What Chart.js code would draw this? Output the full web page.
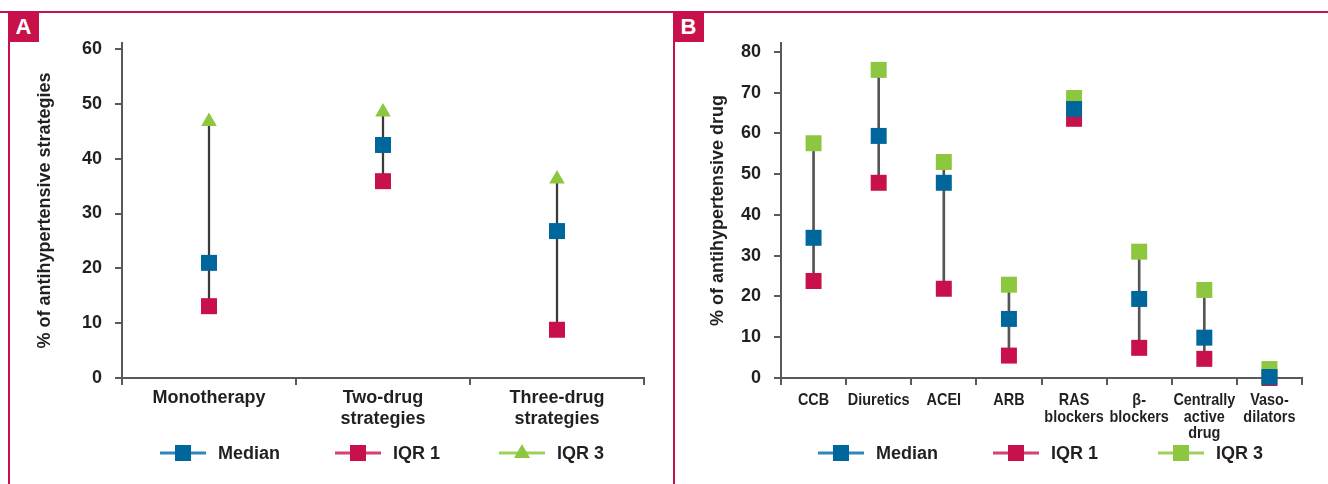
<!DOCTYPE html>
<html lang="en">
<head>
<meta charset="UTF-8">
<title>Antihypertensive strategies and drugs</title>
<script src="https://cdn.jsdelivr.net/npm/chart.js"></script>
<style>
    body, html {
        margin: 0;
        padding: 0;
        width: 1328px;
        height: 484px;
        overflow: hidden;
        background: #fff;
        font-family: "Liberation Sans", Arial, sans-serif;
    }
    .topline { position: absolute; left: 0; top: 11px; width: 1328px; height: 2px; background: #c8114a; }
    .side { position: absolute; top: 11px; width: 2px; height: 473px; background: #c8114a; }
    .badge {
        position: absolute; top: 12px; width: 31px; height: 30px;
        background: #c8114a; color: #fff; font-weight: bold; font-size: 22px;
        line-height: 30px; text-align: center;
    }
    .wrap { position: absolute; top: 0; height: 484px; }
</style>
</head>
<body>
<div class="topline"></div>
<div class="side" style="left:8px"></div>
<div class="side" style="left:673px"></div>
<div class="badge" style="left:8px">A</div>
<div class="badge" style="left:673px">B</div>
<div class="wrap" style="left:0; width:665px"><canvas id="chartA"></canvas></div>
<div class="wrap" style="left:674px; width:654px"><canvas id="chartB"></canvas></div>

<script>
// panel A - strategies
const catsA = ['Monotherapy', ['Two-drug', 'strategies'], ['Three-drug', 'strategies']];
const medianA = [21.0, 42.5, 26.8];
const iqr1A = [13.1, 35.9, 8.8];
const iqr3A = [46.8, 48.5, 36.3];
const yTicksA = [0, 10, 20, 30, 40, 50, 60];

// panel B - drug classes
const catsB = ['CCB', 'Diuretics', 'ACEI', 'ARB', ['RAS', 'blockers'], ['β-', 'blockers'],
    ['Centrally', 'active', 'drug'], ['Vaso-', 'dilators']];
const medianB = [34.4, 59.4, 47.9, 14.5, 66.0, 19.4, 9.9, 0.25];
const iqr1B = [23.8, 47.9, 21.9, 5.5, 63.6, 7.4, 4.7, 0];
const iqr3B = [57.6, 75.6, 53.0, 22.9, 68.7, 31.0, 21.6, 2.2];
const yTicksB = [0, 10, 20, 30, 40, 50, 60, 70, 80];

const BLUE = '#00679c';
const RED = '#c8114a';
const GREEN = '#8dc63f';
const INK = '#231f20';
const AXIS = '#58595b';
const SANS = '"Liberation Sans", Arial, sans-serif';

// draws the "line with marker" legend under each chart
const lineLegend = {
    id: 'lineLegend',
    afterDraw(chart, args, opts) {
        const ctx = chart.ctx;
        const sets = chart.data.datasets.filter(d => d.type === 'line');
        ctx.save();
        opts.xs.forEach((x, i) => {
            const d = sets[i];
            ctx.strokeStyle = d.legendLine;
            ctx.lineWidth = 3;
            ctx.beginPath();
            ctx.moveTo(x, opts.y);
            ctx.lineTo(x + 46, opts.y);
            ctx.stroke();
            ctx.fillStyle = d.pointBackgroundColor;
            const cx = x + 23;
            if (d.pointStyle === 'triangle') {
                ctx.beginPath();
                ctx.moveTo(cx, opts.y - 9);
                ctx.lineTo(cx + 8, opts.y + 5);
                ctx.lineTo(cx - 8, opts.y + 5);
                ctx.closePath();
                ctx.fill();
            } else {
                ctx.fillRect(cx - 8, opts.y - 8, 16, 16);
            }
            ctx.fillStyle = INK;
            ctx.font = 'bold 18px ' + SANS;
            ctx.textBaseline = 'middle';
            ctx.fillText(d.label, x + 58, opts.y + 1);
        });
        ctx.restore();
    }
};

// narrow category labels (panel B uses a condensed face)
const narrowLabels = {
    id: 'narrowLabels',
    afterDraw(chart, args, opts) {
        if (!opts.on) return;
        const ctx = chart.ctx;
        const xs = chart.scales.x;
        ctx.save();
        ctx.fillStyle = INK;
        ctx.font = 'bold 17px ' + SANS;
        ctx.textAlign = 'center';
        ctx.textBaseline = 'alphabetic';
        chart.data.labels.forEach((lab, i) => {
            const lines = Array.isArray(lab) ? lab : [lab];
            const x = xs.getPixelForValue(i);
            lines.forEach((t, j) => {
                ctx.save();
                ctx.translate(x, xs.top + 27 + j * 16.5);
                ctx.scale(0.85, 1);
                ctx.fillText(t, 0, 0);
                ctx.restore();
            });
        });
        ctx.restore();
    }
};

function makeChart(id, cfg) {
    const ranges = cfg.low.map((v, i) => [v, cfg.high[i]]);
    const marker = (label, data, color, legendLine, style, radius) => ({
        type: 'line', label, data, showLine: false, clip: false,
        pointStyle: style, pointRadius: radius, pointHoverRadius: radius,
        pointBackgroundColor: color, pointBorderWidth: 0, borderColor: color,
        legendLine
    });
    const ctx = document.getElementById(id);
    ctx.width = cfg.width;
    ctx.height = 484;
    return new Chart(ctx, {
        data: {
            labels: cfg.labels,
            datasets: [
                marker('Median', cfg.median, BLUE, '#2f86b8', 'rect', 11.3),
                marker('IQR 3', cfg.high, GREEN, '#9fd05a', cfg.highStyle, cfg.highStyle === 'triangle' ? 9 : 11.3),
                marker('IQR 1', cfg.low, RED, '#d8416f', 'rect', 11.3),
                {
                    type: 'bar', label: 'range', data: ranges,
                    backgroundColor: cfg.rangeColor, barThickness: cfg.rangeWidth,
                    borderWidth: 0, clip: false
                }
            ]
        },
        options: {
            responsive: false,
            animation: false,
            events: [],
            layout: { padding: { left: 0, right: cfg.padRight, top: 43, bottom: 46 } },
            scales: {
                x: {
                    offset: true,
                    grid: { offset: true, drawOnChartArea: false, drawTicks: true, tickLength: 7, color: AXIS, lineWidth: 2 },
                    border: { display: true, color: AXIS, width: 2 },
                    ticks: {
                        color: cfg.narrow ? 'rgba(0,0,0,0)' : INK, padding: 3, maxRotation: 0, autoSkip: false,
                        font: { family: SANS, size: 18, weight: 'bold', lineHeight: 1.15 }
                    },
                    afterFit: s => { s.height = 60; }
                },
                y: {
                    min: 0, max: cfg.yMax,
                    grid: { drawOnChartArea: false, drawTicks: true, tickLength: 7, color: AXIS, lineWidth: 2 },
                    border: { display: true, color: AXIS, width: 2 },
                    afterBuildTicks: s => { s.ticks = cfg.yTicks.map(v => ({ value: v })); },
                    ticks: {
                        color: INK, padding: 13,
                        font: { family: SANS, size: 18, weight: 'bold' }
                    },
                    title: {
                        display: true, text: cfg.yTitle, color: INK,
                        padding: { top: cfg.titlePad, bottom: 0 },
                        font: { family: SANS, size: 18, weight: 'bold', lineHeight: 1.2 }
                    },
                    afterFit: s => { s.width = cfg.yWidth; }
                }
            },
            plugins: {
                legend: { display: false },
                tooltip: { enabled: false },
                lineLegend: { xs: cfg.legendXs, y: 453 },
                narrowLabels: { on: !!cfg.narrow }
            }
        },
        plugins: [lineLegend, narrowLabels]
    });
}

makeChart('chartA', {
    width: 665, labels: catsA, median: medianA, low: iqr1A, high: iqr3A,
    highStyle: 'triangle', rangeColor: '#3a3a3a', rangeWidth: 1.6,
    yMax: 61.1, yTicks: yTicksA, yWidth: 122, padRight: 21, titlePad: 34,
    yTitle: '% of antihypertensive strategies',
    legendXs: [160, 499, 335]
});

makeChart('chartB', {
    width: 654, labels: catsB, median: medianB, low: iqr1B, high: iqr3B,
    highStyle: 'rect', rangeColor: '#555555', rangeWidth: 2,
    yMax: 82.2, yTicks: yTicksB, yWidth: 107, padRight: 26, titlePad: 33, narrow: true,
    yTitle: '% of antihypertensive drug',
    legendXs: [144, 484, 319]
});
</script>
</body>
</html>
